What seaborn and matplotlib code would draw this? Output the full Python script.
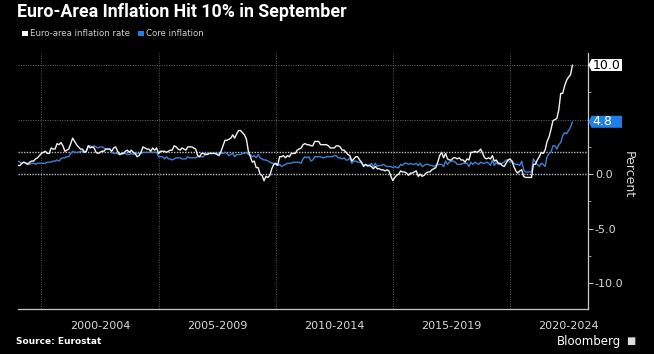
import numpy as np
import pandas as pd
import matplotlib.pyplot as plt
import matplotlib.transforms as mtransforms
from matplotlib.patches import Patch, Polygon
import seaborn as sns

# monthly y/y %, Jan 1999 - Sep 2022
headline = [
    0.8, 0.8, 1.0, 1.1, 1.0, 0.9, 1.1, 1.2, 1.2, 1.4, 1.5, 1.7,
    1.9, 2.0, 2.1, 1.9, 1.9, 2.4, 2.3, 2.3, 2.8, 2.7, 2.9, 2.6,
    2.1, 2.2, 2.3, 2.8, 3.3, 3.0, 2.7, 2.5, 2.3, 2.3, 2.0, 2.1,
    2.6, 2.4, 2.5, 2.4, 2.0, 1.9, 2.0, 2.1, 2.1, 2.3, 2.3, 2.3,
    2.1, 2.4, 2.5, 2.1, 1.8, 1.9, 1.9, 2.1, 2.2, 2.0, 2.2, 2.0,
    1.9, 1.6, 1.7, 2.0, 2.5, 2.4, 2.3, 2.3, 2.1, 2.4, 2.2, 2.4,
    1.9, 2.1, 2.1, 2.1, 2.0, 2.1, 2.2, 2.2, 2.6, 2.5, 2.3, 2.2,
    2.4, 2.3, 2.2, 2.5, 2.5, 2.5, 2.4, 2.3, 1.7, 1.6, 1.9, 1.9,
    1.8, 1.8, 1.9, 1.9, 1.9, 1.9, 1.8, 1.7, 2.1, 2.6, 3.1, 3.1,
    3.2, 3.3, 3.6, 3.3, 3.7, 4.0, 4.0, 3.8, 3.6, 3.2, 2.1, 1.6,
    1.1, 1.2, 0.6, 0.6, 0.0, -0.1, -0.6, -0.2, -0.3, -0.1, 0.5, 0.9,
    1.0, 0.8, 1.6, 1.6, 1.7, 1.5, 1.7, 1.6, 1.9, 1.9, 1.9, 2.2,
    2.3, 2.4, 2.7, 2.8, 2.7, 2.7, 2.6, 2.6, 3.0, 3.0, 3.0, 2.7,
    2.7, 2.7, 2.7, 2.6, 2.4, 2.4, 2.4, 2.6, 2.6, 2.5, 2.2, 2.2,
    2.0, 1.8, 1.7, 1.2, 1.4, 1.6, 1.6, 1.3, 1.1, 0.7, 0.9, 0.8,
    0.8, 0.7, 0.5, 0.7, 0.5, 0.5, 0.4, 0.4, 0.3, 0.4, 0.3, -0.2,
    -0.6, -0.3, -0.1, 0.0, 0.3, 0.2, 0.2, 0.1, -0.1, 0.1, 0.1, 0.2,
    0.3, -0.2, 0.0, -0.2, -0.1, 0.1, 0.2, 0.2, 0.4, 0.5, 0.6, 1.1,
    1.7, 2.0, 1.5, 1.9, 1.4, 1.3, 1.3, 1.5, 1.5, 1.4, 1.5, 1.3,
    1.3, 1.1, 1.4, 1.3, 2.0, 2.0, 2.1, 2.0, 2.1, 2.3, 1.9, 1.5,
    1.4, 1.5, 1.4, 1.7, 1.2, 1.3, 1.0, 1.0, 0.8, 0.7, 1.0, 1.3,
    1.4, 1.2, 0.7, 0.3, 0.1, 0.3, 0.4, -0.2, -0.3, -0.3, -0.3, -0.3,
    0.9, 0.9, 1.3, 1.6, 2.0, 1.9, 2.2, 3.0, 3.4, 4.1, 4.9, 5.0,
    5.1, 5.9, 7.4, 7.4, 8.1, 8.6, 8.9, 9.1, 10.0,
]
core = [
    1.2, 1.1, 1.0, 1.1, 1.0, 1.0, 0.9, 1.0, 1.0, 0.9, 1.0, 1.0,
    1.0, 1.0, 1.0, 1.1, 1.1, 1.1, 1.2, 1.2, 1.3, 1.2, 1.4, 1.5,
    1.5, 1.6, 1.6, 1.9, 2.1, 2.0, 2.0, 2.0, 2.1, 2.1, 2.1, 2.1,
    2.6, 2.6, 2.5, 2.6, 2.5, 2.4, 2.5, 2.5, 2.4, 2.3, 2.3, 2.3,
    2.0, 1.9, 1.9, 1.9, 1.8, 1.8, 1.9, 1.9, 1.8, 1.8, 1.9, 1.8,
    1.9, 1.9, 1.9, 1.9, 2.0, 2.0, 2.0, 2.0, 2.0, 2.0, 2.0, 2.0,
    1.6, 1.6, 1.6, 1.4, 1.6, 1.4, 1.4, 1.3, 1.4, 1.5, 1.5, 1.5,
    1.4, 1.4, 1.4, 1.6, 1.5, 1.5, 1.5, 1.5, 1.6, 1.6, 1.6, 1.6,
    1.9, 1.9, 1.9, 1.9, 1.9, 1.9, 1.9, 1.9, 1.9, 1.9, 2.0, 1.9,
    1.7, 1.8, 1.9, 1.6, 1.8, 1.8, 1.8, 1.9, 1.9, 2.0, 1.8, 1.8,
    1.6, 1.7, 1.5, 1.8, 1.5, 1.4, 1.3, 1.3, 1.2, 1.1, 1.0, 1.0,
    0.9, 0.8, 0.9, 0.7, 0.8, 0.9, 1.0, 1.0, 1.0, 1.1, 1.1, 1.1,
    1.1, 1.0, 1.4, 1.6, 1.5, 1.6, 1.2, 1.3, 1.6, 1.6, 1.6, 1.6,
    1.5, 1.5, 1.6, 1.6, 1.6, 1.6, 1.7, 1.7, 1.5, 1.5, 1.4, 1.5,
    1.3, 1.3, 1.5, 1.0, 1.2, 1.2, 1.1, 1.1, 1.0, 0.8, 0.9, 0.7,
    0.8, 1.0, 0.7, 1.0, 0.7, 0.8, 0.8, 0.9, 0.8, 0.7, 0.7, 0.7,
    0.6, 0.7, 0.6, 0.6, 0.9, 0.8, 1.0, 1.0, 0.9, 1.0, 0.9, 0.9,
    1.0, 0.8, 1.0, 0.7, 0.8, 0.9, 0.9, 0.8, 0.8, 0.7, 0.8, 0.9,
    0.9, 0.9, 0.7, 1.2, 0.9, 1.1, 1.2, 1.2, 1.1, 0.9, 0.9, 0.9,
    1.0, 1.0, 1.0, 0.7, 1.1, 0.9, 1.1, 1.0, 0.9, 1.1, 1.0, 1.0,
    1.1, 1.0, 0.8, 1.3, 0.8, 1.1, 0.9, 0.9, 1.0, 1.1, 1.3, 1.3,
    1.1, 1.2, 1.0, 0.9, 0.9, 0.8, 1.2, 0.4, 0.2, 0.2, 0.2, 0.2,
    1.4, 1.1, 0.9, 0.7, 1.0, 0.9, 0.7, 1.6, 1.9, 2.0, 2.6, 2.6,
    2.3, 2.7, 2.9, 3.5, 3.8, 3.7, 4.0, 4.3, 4.8,
]

series_names = ['Euro-area inflation rate', 'Core inflation']
series_colors = ['#f2f2f2', '#3d80d6']
tag_colors = ['#ffffff', '#1f7fe5']
tag_text_colors = ['#000000', '#ffffff']
period_starts = [2000, 2005, 2010, 2015, 2020]
period_labels = ['2000-2004', '2005-2009', '2010-2014', '2015-2019', '2020-2024']
ytick_values = [10, 5, 0, -5, -10]
ytick_labels = ['', '', '0.0', '-5.0', '-10.0']
ytick_minor = [7.5, 2.5, -2.5, -7.5]
grid_levels = [10, 5]
ref_levels = [2, 0]

months = pd.date_range('1999-01-01', periods=len(headline), freq='MS')
df = pd.DataFrame({
    'date': months.year + (months.month - 1) / 12,
    series_names[0]: headline,
    series_names[1]: core,
})
long = df.melt('date', var_name='series', value_name='pct')

sns.set_style('dark', {'axes.facecolor': 'black', 'figure.facecolor': 'black'})
plt.rcParams['font.family'] = ['Liberation Sans Narrow', 'DejaVu Sans']

fig = plt.figure(figsize=(6.54, 3.54), dpi=100, facecolor='black')
ax = fig.add_axes([18 / 654, 1 - 309 / 354, 570 / 654, 256 / 354])
ax.set_facecolor('black')

for y in grid_levels:
    ax.axhline(y, color='#6a6a6a', lw=0.7, ls=(0, (1, 1.5)), zorder=1)
for y in ref_levels:
    ax.axhline(y, color='#bdbdbd', lw=1.0, ls=(0, (1, 1)), zorder=1)

sns.lineplot(data=long, x='date', y='pct', hue='series', hue_order=series_names[::-1],
             palette=dict(zip(series_names, series_colors)), linewidth=1.0,
             legend=False, ax=ax, zorder=3)

ax.set_xlim(1999.0, 2023.33)
ax.set_ylim(-12.35, 11.1)
ax.set_xlabel('')
ax.set_ylabel('')

# x axis: period separators + yearly minor ticks
ax.set_xticks(period_starts)
ax.set_xticklabels([])
ax.set_xticks(np.arange(1999, 2024), minor=True)
ax.tick_params(axis='x', which='major', length=17, width=0.7, color='#6a6a6a', direction='out')
ax.tick_params(axis='x', which='minor', length=2, width=0.6, color='#9a9a9a', direction='in')
ax.grid(axis='x', which='major', color='#5a5a5a', lw=0.7, ls=(0, (1, 1.5)))
ax.grid(axis='y', visible=False)
for start, lab in zip(period_starts, period_labels):
    ax.annotate(lab, xy=(start + 2.5, 0), xycoords=ax.get_xaxis_transform(),
                xytext=(0, -12.5), textcoords='offset points', ha='center', va='center',
                fontsize=8, color='#d9d9d9')

# right y axis
ax.yaxis.tick_right()
ax.set_yticks(ytick_values)
ax.set_yticklabels(ytick_labels)
ax.set_yticks(ytick_minor, minor=True)
ax.tick_params(axis='y', which='major', length=3.5, width=0.7, color='#cccccc',
               labelsize=8, labelcolor='#d9d9d9', pad=1.5)
ax.tick_params(axis='y', which='minor', length=2.5, width=0.7, color='#999999')

for side in ['left', 'top']:
    ax.spines[side].set_visible(False)
for side in ['right', 'bottom']:
    ax.spines[side].set_visible(True)
    ax.spines[side].set_color('#c8c8c8')
    ax.spines[side].set_linewidth(0.9)

# last-value tags
for vals, fc, tc in zip([headline, core], tag_colors, tag_text_colors):
    last = vals[-1]
    trans = fig.dpi_scale_trans + mtransforms.ScaledTranslation(1, last, ax.get_yaxis_transform())
    tag = Polygon([(0.005, 0), (0.035, 0.06), (0.34, 0.06), (0.34, -0.06), (0.035, -0.06)],
                  closed=True, transform=trans, fc=fc, ec='none', clip_on=False, zorder=5)
    ax.add_artist(tag)
    ax.annotate(f'{last:.1f}', xy=(1, last), xycoords=ax.get_yaxis_transform(),
                xytext=(3.5, 0), textcoords='offset points', ha='left', va='center',
                fontsize=9, color=tc, zorder=6, annotation_clip=False)

fig.text(628 / 654, 1 - 175 / 354, 'Percent', rotation=270, ha='center', va='center',
         fontsize=9, color='#d9d9d9')

fig.text(17 / 654, 1 - 12 / 354, 'Euro-Area Inflation Hit 10% in September',
         fontsize=12.8, fontweight='bold', color='white', va='center',
         family=['Roboto', 'DejaVu Sans'])

handles = [Patch(facecolor=c, edgecolor='none', label=n) for n, c in zip(series_names, tag_colors)]
fig.legend(handles=handles, loc='center left', bbox_to_anchor=(22 / 654, 1 - 34 / 354),
           ncol=2, frameon=False, fontsize=6.2, labelcolor='#cfcfcf', handlelength=0.65,
           handleheight=0.65, handletextpad=0.3, columnspacing=0.9, borderpad=0, borderaxespad=0)

fig.text(16 / 654, 1 - 342 / 354, 'Source: Eurostat', fontsize=6.5, fontweight='bold',
         color='white', va='center', family=['DejaVu Sans'])
fig.text(621 / 654, 1 - 341 / 354, 'Bloomberg', fontsize=8.5, color='white', ha='right',
         va='center', family=['DejaVu Sans'])
fig.text(631 / 654, 1 - 341 / 354, '\u25a0', fontsize=7, color='#dddddd', ha='center',
         va='center', family=['DejaVu Sans'])

fig.savefig('out.png', dpi=100, facecolor='black')
